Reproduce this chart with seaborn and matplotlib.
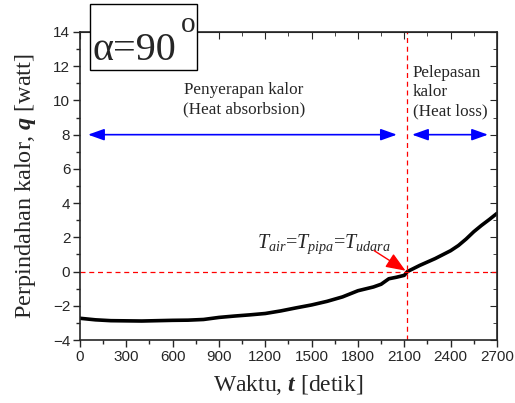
import pandas as pd
import seaborn as sns
import matplotlib
matplotlib.use("Agg")
import matplotlib.pyplot as plt
from matplotlib.ticker import MultipleLocator
from matplotlib.patches import Rectangle

# Heat transfer rate over time
waktu = [0, 100, 200, 300, 400, 500, 600, 700, 800, 900, 1000, 1100, 1200,
         1300, 1400, 1500, 1600, 1700, 1800, 1900, 1950, 2000, 2050, 2100,
         2120, 2200, 2300, 2400, 2450, 2500, 2550, 2600, 2650, 2700]
q = [-2.73, -2.82, -2.87, -2.88, -2.89, -2.87, -2.85, -2.84, -2.80, -2.68,
     -2.60, -2.53, -2.45, -2.30, -2.12, -1.95, -1.74, -1.48, -1.12, -0.90,
     -0.74, -0.42, -0.33, -0.22, 0.0, 0.36, 0.76, 1.22, 1.52, 1.90, 2.33,
     2.70, 3.04, 3.40]
t_seimbang = 2120

x_ticks = [0, 300, 600, 900, 1200, 1500, 1800, 2100, 2400, 2700]
y_ticks = [-4, -2, 0, 2, 4, 6, 8, 10, 12, 14]

df = pd.DataFrame({"t": waktu, "q": q})

sns.set_style("ticks")
serif = ["Liberation Serif", "DejaVu Serif"]
sans = ["Liberation Sans", "DejaVu Sans"]
plt.rcParams["font.family"] = sans
plt.rcParams["mathtext.fontset"] = "custom"
plt.rcParams["mathtext.rm"] = "Liberation Serif"
plt.rcParams["mathtext.it"] = "Liberation Serif:italic"
plt.rcParams["mathtext.bf"] = "Liberation Serif:bold"
plt.rcParams["mathtext.bfit"] = "Liberation Serif:bold:italic"

fig = plt.figure(figsize=(5.15, 4.03), dpi=100)
ax = fig.add_axes([0.1553, 0.1563, 0.8097, 0.7643])

sns.lineplot(data=df, x="t", y="q", ax=ax, color="black", lw=2.6)

ax.set_xlim(0, 2700)
ax.set_ylim(-4, 14)
ax.set_xticks(x_ticks)
ax.set_yticks(y_ticks)
ax.xaxis.set_minor_locator(MultipleLocator(150))
ax.yaxis.set_minor_locator(MultipleLocator(1))
ax.tick_params(axis="both", which="major", labelsize=11, length=5, width=1,
               direction="out", top=False, right=False, pad=2)
ax.tick_params(axis="both", which="minor", length=3, width=1, direction="out",
               top=False, right=False)
for s in ax.spines.values():
    s.set_linewidth(1.2)

# inward ticks on the top and right frame
sec_x = ax.secondary_xaxis("top")
sec_x.set_xticks(x_ticks)
sec_x.xaxis.set_minor_locator(MultipleLocator(150))
sec_x.tick_params(which="major", direction="in", length=5, labeltop=False)
sec_x.tick_params(which="minor", direction="in", length=3)
sec_y = ax.secondary_yaxis("right")
sec_y.set_yticks(y_ticks)
sec_y.yaxis.set_minor_locator(MultipleLocator(1))
sec_y.tick_params(which="major", direction="in", length=5, labelright=False)
sec_y.tick_params(which="minor", direction="in", length=3)

ax.set_xlabel("Waktu, $\\mathbfit{t}$ [detik]", fontfamily=serif, fontsize=17,
              labelpad=7)
ax.set_ylabel("Perpindahan kalor, $\\mathbfit{q}$ [watt]", fontfamily=serif,
              fontsize=17.5, labelpad=11)

# reference lines
ax.axhline(0, color="red", ls=(0, (4, 3)), lw=0.9)
ax.axvline(t_seimbang, color="red", ls=(0, (4, 3)), lw=0.9)

# phase arrows
arr = dict(arrowstyle="<|-|>,head_length=0.7,head_width=0.25", color="blue",
           lw=1.2, mutation_scale=14, shrinkA=0, shrinkB=0)
ax.annotate("", xy=(52, 8), xytext=(2052, 8), arrowprops=arr)
ax.annotate("", xy=(2150, 8), xytext=(2642, 8), arrowprops=arr)

ax.text(1062, 10.03, "Penyerapan kalor\n(Heat absorbsion)", fontfamily=serif,
        fontsize=12.3, ha="center", va="center", linespacing=1.25)
ax.text(2155, 10.49, "Pelepasan\nkalor\n(Heat loss)", fontfamily=serif,
        fontsize=12.3, ha="left", va="center", linespacing=1.25)

# equilibrium point: water = pipe = air temperature
ax.text(1146, 1.38, r"$T_{air}$=$T_{pipa}$=$T_{udara}$", fontsize=14.5,
        fontfamily=serif, va="baseline")
ax.annotate("", xy=(t_seimbang - 12, 0.05), xytext=(1905, 1.22),
            arrowprops=dict(arrowstyle="-|>,head_length=1.0,head_width=0.4",
                            color="red", lw=1.0, mutation_scale=12,
                            shrinkA=0, shrinkB=0))

# angle tag in a white box over the top frame
fig.add_artist(Rectangle((90 / 515, 1 - 70 / 403), 107 / 515, 66 / 403,
                         transform=fig.transFigure, fc="white", ec="black",
                         lw=1.0, zorder=5))
fig.text(92 / 515, 1 - 60 / 403, "α=90", fontsize=29, fontfamily=serif,
         ha="left", va="baseline", zorder=6)
fig.text(181 / 515, 1 - 32 / 403, "o", fontsize=21, fontfamily=serif,
         ha="left", va="baseline", zorder=6)

fig.savefig("out.png", dpi=100)
